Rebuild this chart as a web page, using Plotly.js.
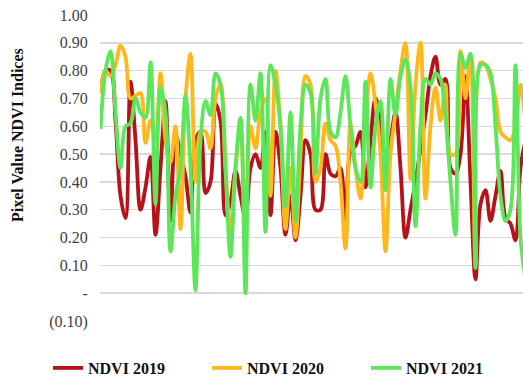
<!DOCTYPE html>
<html>
<head>
<meta charset="utf-8">
<script src="https://cdn.plot.ly/plotly-3.0.1.min.js"></script>
<style>html,body{margin:0;padding:0;overflow:hidden;background:#fff;}</style>
</head>
<body>
<div id="chart" style="width:523px;height:381px;"></div>
<script>
// Observation index (shared category positions)
const obsIndex = Array.from({length: 86}, (_, i) => i + 1);

const ndvi2019 = [0.72,0.80,0.80,0.62,0.35,0.27,0.76,0.55,0.30,0.38,
  0.49,0.21,0.45,0.69,0.26,0.57,0.50,0.42,0.29,0.55,
  0.58,0.36,0.40,0.68,0.62,0.28,0.33,0.44,0.35,0.27,
  0.45,0.50,0.45,0.58,0.28,0.58,0.45,0.21,0.35,0.19,
  0.35,0.55,0.50,0.30,0.30,0.50,0.43,0.42,0.45,0.17,
  0.51,0.53,0.58,0.38,0.55,0.70,0.62,0.47,0.55,0.65,
  0.45,0.20,0.30,0.40,0.52,0.64,0.78,0.85,0.75,0.77,
  0.45,0.43,0.50,0.78,0.40,0.05,0.32,0.37,0.26,0.35,
  0.44,0.27,0.25,0.19,0.45,0.55];

const ndvi2020 = [0.72,0.80,0.78,0.82,0.89,0.85,0.70,0.71,0.72,0.54,
  0.62,0.55,0.79,0.55,0.47,0.60,0.23,0.70,0.86,0.40,
  0.58,0.58,0.52,0.70,0.75,0.45,0.22,0.45,0.60,0.25,
  0.60,0.52,0.65,0.70,0.35,0.80,0.60,0.23,0.45,0.20,
  0.50,0.78,0.75,0.40,0.45,0.61,0.55,0.53,0.40,0.16,
  0.61,0.45,0.34,0.60,0.79,0.68,0.50,0.15,0.50,0.65,
  0.80,0.90,0.41,0.75,0.90,0.34,0.60,0.74,0.62,0.75,
  0.50,0.50,0.87,0.70,0.86,0.10,0.83,0.82,0.77,0.70,
  0.58,0.56,0.55,0.60,0.75,0.60];

const ndvi2021 = [0.59,0.80,0.87,0.65,0.45,0.60,0.61,0.70,0.65,0.63,
  0.83,0.32,0.74,0.65,0.15,0.35,0.45,0.71,0.45,0.01,
  0.55,0.69,0.64,0.79,0.75,0.45,0.13,0.45,0.63,0.00,
  0.75,0.62,0.79,0.22,0.82,0.75,0.60,0.31,0.65,0.26,
  0.60,0.75,0.72,0.43,0.70,0.77,0.58,0.56,0.65,0.78,
  0.60,0.45,0.40,0.76,0.38,0.60,0.69,0.37,0.77,0.64,
  0.78,0.84,0.74,0.24,0.60,0.77,0.75,0.79,0.77,0.63,
  0.40,0.21,0.86,0.81,0.86,0.09,0.82,0.82,0.79,0.60,
  0.35,0.26,0.30,0.82,0.20,0.05];

const seriesNames = ['NDVI 2019', 'NDVI 2020', 'NDVI 2021'];
const seriesColors = ['#B5121B', '#FFB81C', '#5DE65A'];

const yTickVals = [1.0,0.9,0.8,0.7,0.6,0.5,0.4,0.3,0.2,0.1,0,-0.1];
const yTickText = ['1.00','0.90','0.80','0.70','0.60','0.50','0.40','0.30','0.20','0.10','-','(0.10)'];

const serif = '"Liberation Serif", "Times New Roman", serif';
const allData = [ndvi2019, ndvi2020, ndvi2021];
const traces = allData.map((vals, k) => ({
  x: obsIndex, y: vals, type: 'scatter', mode: 'lines',
  name: seriesNames[k],
  line: {color: seriesColors[k], width: 3.8, shape: 'spline', smoothing: 1},
  hoverinfo: 'skip'
}));

const layout = {
  width: 523, height: 381,
  margin: {l: 100, r: 0, t: 15, b: 60, autoexpand: false},
  paper_bgcolor: '#ffffff', plot_bgcolor: '#ffffff',
  showlegend: true,
  legend: {orientation: 'h', x: (48 - 100) / 423, xanchor: 'left', y: (321 - 368) / 306, yanchor: 'middle',
    font: {family: serif, size: 16, color: '#111111', weight: 'bold'},
    entrywidth: 114, entrywidthmode: 'pixels', tracegroupgap: 0},
  xaxis: {range: [0.9, 85.5], showgrid: false, zeroline: false, showline: false,
    showticklabels: false, ticks: '', fixedrange: true},
  yaxis: {range: [-0.1, 1.0], tickvals: yTickVals, ticktext: yTickText,
    showgrid: true, gridcolor: '#d9d9d9', gridwidth: 1.5, zeroline: false, showline: false,
    ticks: 'outside', ticklen: 8, tickcolor: 'rgba(0,0,0,0)', automargin: false,
    tickfont: {family: serif, size: 16, color: '#404040'}, fixedrange: true},
  annotations: [{
    text: 'Pixel Value NDVI Indices', textangle: -90, showarrow: false,
    xref: 'paper', yref: 'paper', x: (17 - 100) / 423, y: (321 - 135) / 306,
    xanchor: 'center', yanchor: 'middle',
    font: {family: serif, size: 16, color: '#111111', weight: 'bold'}
  }]
};

Plotly.newPlot('chart', traces, layout, {displayModeBar: false, staticPlot: true});
</script>
</body>
</html>
